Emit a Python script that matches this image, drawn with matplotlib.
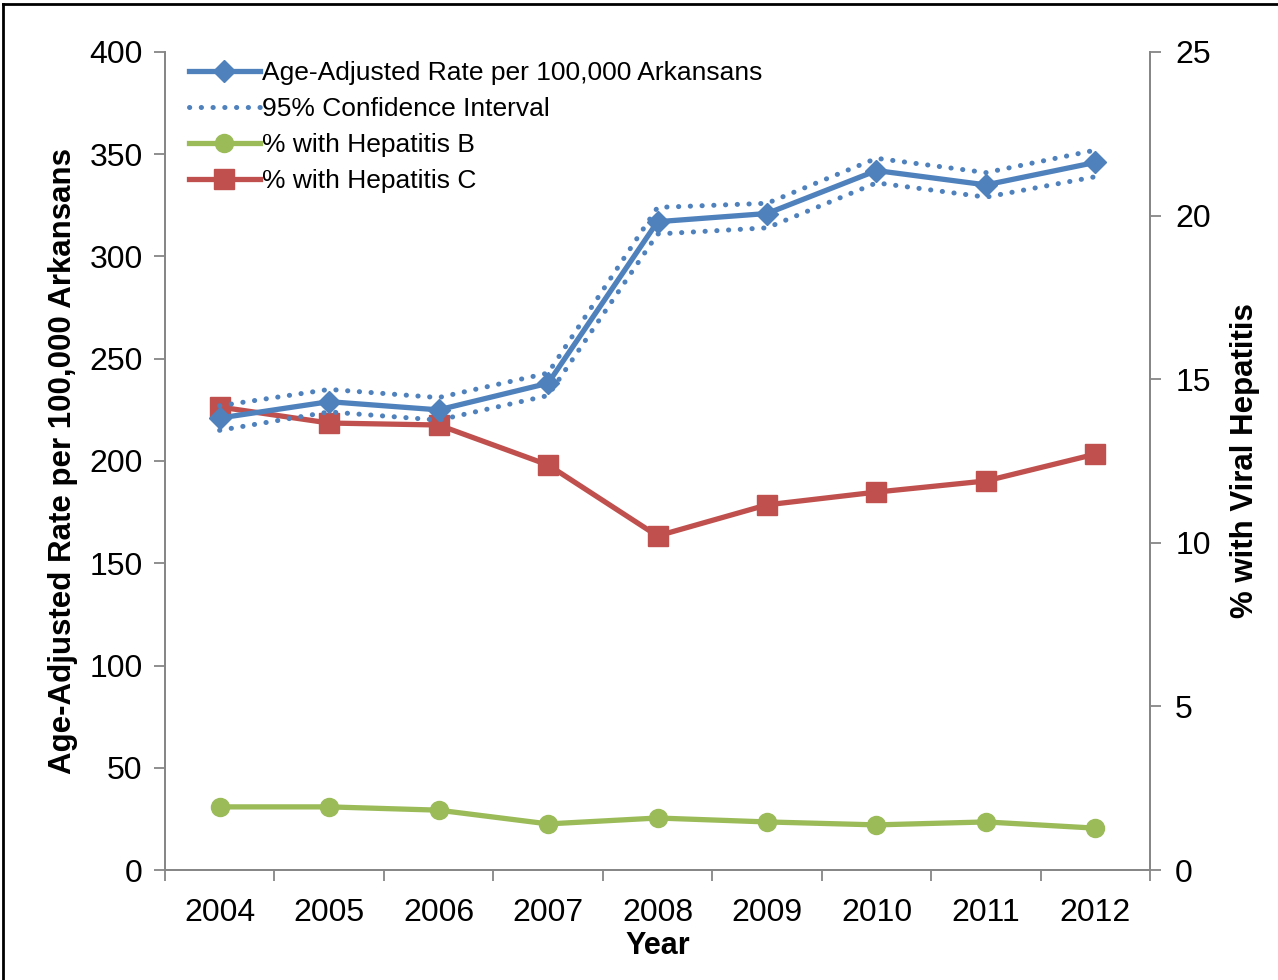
import numpy as np
import matplotlib.pyplot as plt
from matplotlib.lines import Line2D

plt.rcParams['font.family'] = ['Liberation Sans', 'DejaVu Sans']

years = ['2004', '2005', '2006', '2007', '2008', '2009', '2010', '2011', '2012']
rate = [221, 229, 225, 238, 317, 321, 342, 335, 346]
ci_upper = [227, 235, 231, 243, 324, 326, 348, 341, 352]
ci_lower = [215, 224, 220, 232, 311, 314, 336, 329, 339]
hep_b = [1.93, 1.93, 1.83, 1.41, 1.59, 1.47, 1.38, 1.47, 1.28]
hep_c = [14.15, 13.66, 13.60, 12.38, 10.21, 11.16, 11.55, 11.89, 12.71]

azul = '#4F81BD'
rojo = '#C0504D'
verde = '#9BBB59'
gris = '#868686'

fig = plt.figure(figsize=(12.78, 9.8), dpi=100)
ax = fig.add_axes([0.129, 0.1122, 0.771, 0.8348])
ax2 = ax.twinx()

x = np.arange(len(years))

# intervalo de confianza punteado
puntos = (0, (0.05, 2.3))
ax.plot(x, ci_upper, color=azul, lw=3.6, linestyle=puntos, dash_capstyle='round', zorder=2)
ax.plot(x, ci_lower, color=azul, lw=3.6, linestyle=puntos, dash_capstyle='round', zorder=2)
ax.plot(x, rate, color=azul, lw=3.8, marker='D', ms=11, zorder=3)

ax2.plot(x, hep_b, color=verde, lw=3.8, marker='o', ms=13, zorder=3)
ax2.plot(x, hep_c, color=rojo, lw=3.8, marker='s', ms=15, zorder=3)

ax.set_xlim(-0.5, len(years) - 0.5)
ax.set_ylim(0, 400)
ax2.set_ylim(0, 25)

ax.set_yticks(np.arange(0, 401, 50))
ax2.set_yticks(np.arange(0, 26, 5))
ax.set_xticks(np.arange(-0.5, len(years), 1))
ax.set_xticklabels([])
ax.set_xticks(x, minor=True)
ax.set_xticklabels(years, minor=True)

for a in (ax, ax2):
    for s in a.spines.values():
        s.set_color(gris)
        s.set_linewidth(1.3)
    a.spines['top'].set_visible(False)

ax.tick_params(axis='both', which='major', length=8, width=1.3, color=gris, labelsize=23, pad=8)
ax.tick_params(axis='x', which='minor', length=0, labelsize=23, pad=20)
ax2.tick_params(axis='y', length=8, width=1.3, color=gris, labelsize=23, pad=10)

ax.set_xlabel('Year', fontsize=22, fontweight='bold', labelpad=2)
ax.set_ylabel('Age-Adjusted Rate per 100,000 Arkansans', fontsize=22.5, fontweight='bold', labelpad=8)
ax2.set_ylabel('% with Viral Hepatitis', fontsize=22.5, fontweight='bold', labelpad=14)

ax.set_zorder(ax2.get_zorder() + 1)
ax.patch.set_visible(False)

handles = [
    Line2D([], [], color=azul, lw=3.8, marker='D', ms=11),
    Line2D([], [], color=azul, lw=3.6, linestyle=puntos, dash_capstyle='round'),
    Line2D([], [], color=verde, lw=3.8, marker='o', ms=13),
    Line2D([], [], color=rojo, lw=3.8, marker='s', ms=15),
]
labels = ['Age-Adjusted Rate per 100,000 Arkansans', '95% Confidence Interval',
          '% with Hepatitis B', '% with Hepatitis C']
ax.legend(handles, labels, loc='upper left', bbox_to_anchor=(0.008, 1.008), frameon=False,
          fontsize=19, handlelength=2.7, handletextpad=0.1, labelspacing=0.45, borderaxespad=0.2)

# marco negro de la figura
fig.add_artist(Line2D([0.002, 0.002], [0, 0.996], color='black', lw=2, transform=fig.transFigure))
fig.add_artist(Line2D([0.002, 1.0], [0.996, 0.996], color='black', lw=2, transform=fig.transFigure))

fig.savefig('out.png', dpi=100)
